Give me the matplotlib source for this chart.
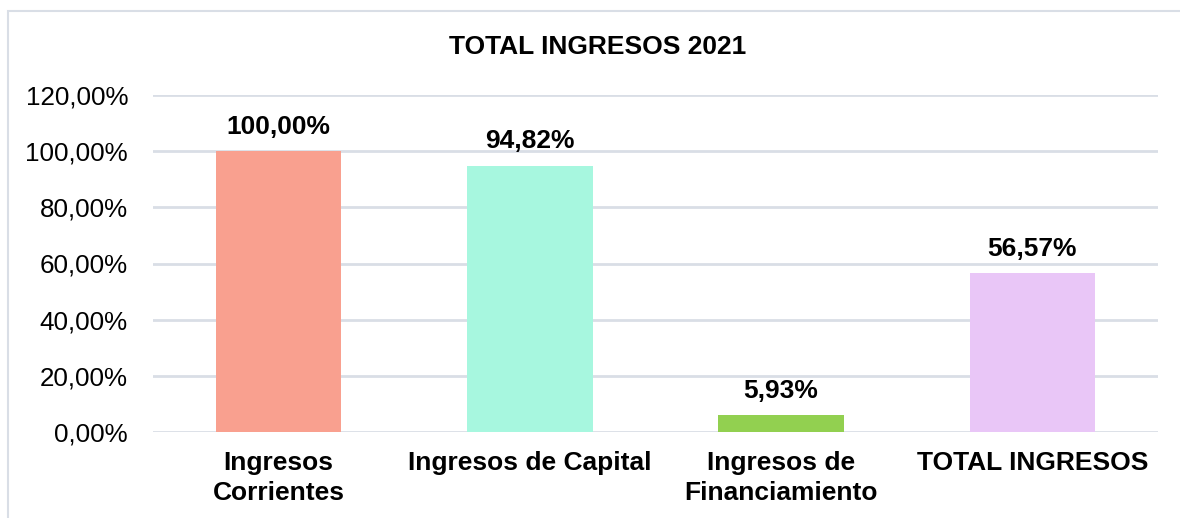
import matplotlib.pyplot as plt
from matplotlib.patches import Rectangle

plt.rcParams['font.family'] = ['Liberation Sans', 'DejaVu Sans']

# data
categories = ['Ingresos\nCorrientes', 'Ingresos de Capital', 'Ingresos de\nFinanciamiento', 'TOTAL INGRESOS']
values = [100.00, 94.82, 5.93, 56.57]
colors = ['#F9A08F', '#A7F7DF', '#92D050', '#E9C6F7']
yticks = [0, 20, 40, 60, 80, 100, 120]

def pct(v):
    return ('%.2f%%' % v).replace('.', ',')

fig = plt.figure(figsize=(11.8, 5.18), dpi=100)
ax = fig.add_axes([153/1180, 1 - 432/518, (1158 - 153)/1180, (432 - 95)/518])

x = range(len(categories))
bars = ax.bar(x, values, width=0.5, color=colors, zorder=3)

ax.set_xlim(-0.5, len(categories) - 0.5)
ax.set_ylim(0, 120)
ax.set_yticks(yticks)
ax.set_yticklabels([pct(t) for t in yticks], fontsize=18.7)
ax.set_xticks(list(x))
ax.set_xticklabels(categories, fontsize=19, fontweight='bold', linespacing=1.3)
ax.tick_params(axis='both', length=0)
ax.tick_params(axis='x', pad=14)
ax.tick_params(axis='y', pad=18)
ax.grid(axis='y', color='#D9DEE6', linewidth=2, zorder=0)
for s in ax.spines.values():
    s.set_visible(False)

for b, v in zip(bars, values):
    ax.annotate(pct(v), (b.get_x() + b.get_width() / 2, v), xytext=(0, 9),
                textcoords='offset points', ha='center', va='bottom',
                fontsize=19, fontweight='bold')

fig.text(598/1180, 1 - 47/518, 'TOTAL INGRESOS 2021', ha='center', va='center',
         fontsize=19, fontweight='bold')

# outer chart border (right and bottom edges run off the image)
fig.patches.append(Rectangle((8/1180, -0.1), 1.2, 1.1 - 11/518, transform=fig.transFigure,
                             fill=False, edgecolor='#D9DEE6', linewidth=1.5, zorder=0))

fig.savefig('out.png', dpi=100)
